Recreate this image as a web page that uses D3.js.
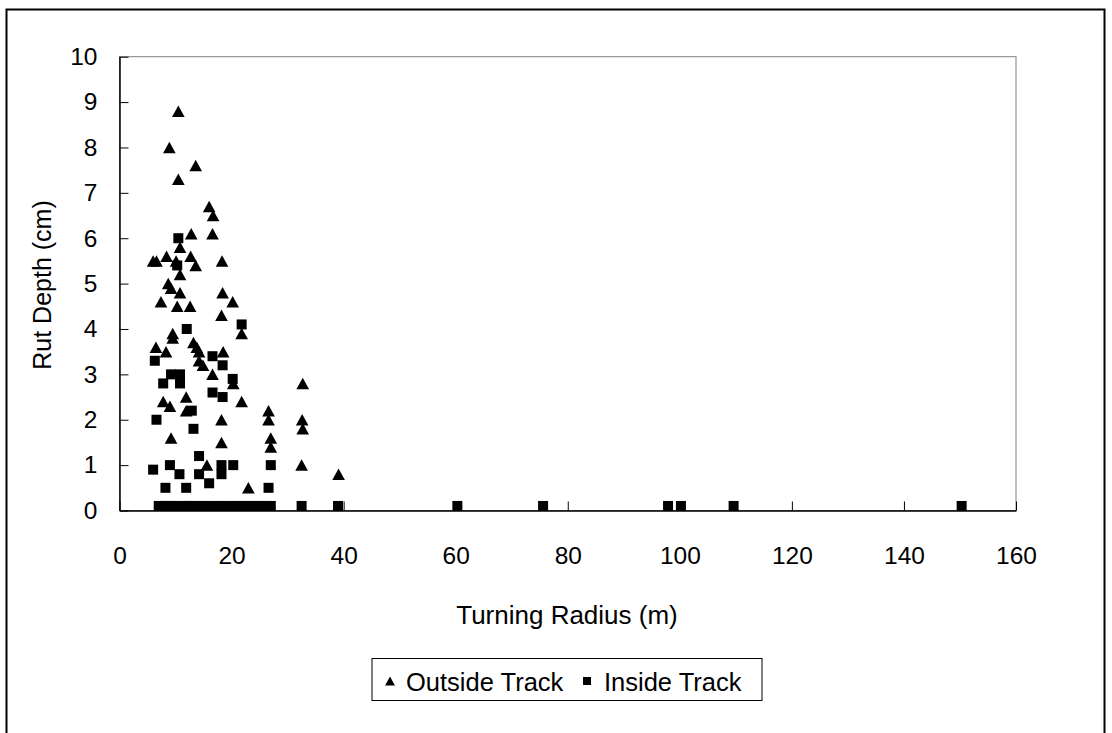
<!DOCTYPE html>
<html><head><meta charset="utf-8">
<script src="https://cdn.jsdelivr.net/npm/d3@7"></script>
<style>html,body{margin:0;padding:0;background:#fff;}svg{display:block;}</style>
</head><body>
<svg id="c" width="1112" height="733"></svg>
<script>
const xTicks = [0,20,40,60,80,100,120,140,160];
const yTicks = [0,1,2,3,4,5,6,7,8,9,10];
const seriesNames = ["Outside Track","Inside Track"];
const outsideX = [10.5,8.9,13.6,10.5,16.0,16.7,16.6,12.8,10.8,6.0,6.6,8.4,12.7,13.6,18.3,10.1,10.8,8.7,9.2,10.8,18.4,7.4,20.2,10.3,12.6,18.2,21.8,9.5,9.5,6.5,8.3,13.2,13.8,14.2,14.2,14.9,18.5,16.6,20.3,11.9,7.8,9.0,11.9,21.8,18.2,9.2,18.2,15.6,23.0,26.6,26.6,27.0,27.0,32.7,32.6,32.7,32.5,39.1];
const outsideY = [8.8,8.0,7.6,7.3,6.7,6.5,6.1,6.1,5.8,5.5,5.5,5.6,5.6,5.4,5.5,5.5,5.2,5.0,4.9,4.8,4.8,4.6,4.6,4.5,4.5,4.3,3.9,3.9,3.8,3.6,3.5,3.7,3.6,3.5,3.3,3.2,3.5,3.0,2.8,2.5,2.4,2.3,2.2,2.4,2.0,1.6,1.5,1.0,0.5,2.2,2.0,1.6,1.4,2.8,2.0,1.8,1.0,0.8];
const insideX = [10.5,10.3,12.0,21.8,6.3,16.6,18.4,9.2,10.8,7.8,10.8,20.2,16.6,18.4,12.9,6.6,13.2,14.2,6.0,9.0,10.7,14.2,18.2,18.2,20.3,16.0,8.2,11.9,27.0,26.6,
  7.0,7.6,8.2,8.8,9.4,10.0,11.5,12.0,12.6,13.2,14.0,15.0,16.0,17.0,18.0,19.0,20.0,21.0,22.0,23.0,24.0,25.0,26.0,27.0,32.5,39.0,60.3,75.6,97.9,100.2,109.6,150.3];
const insideY = [6.0,5.4,4.0,4.1,3.3,3.4,3.2,3.0,3.0,2.8,2.8,2.9,2.6,2.5,2.2,2.0,1.8,1.2,0.9,1.0,0.8,0.8,1.0,0.8,1.0,0.6,0.5,0.5,1.0,0.5,
  0.1,0.1,0.1,0.1,0.1,0.1,0.1,0.1,0.1,0.1,0.1,0.1,0.1,0.1,0.1,0.1,0.1,0.1,0.1,0.1,0.1,0.1,0.1,0.1,0.1,0.1,0.1,0.1,0.1,0.1,0.1,0.1];

const FONT = "'Liberation Sans', Arial, sans-serif";
const svg = d3.select("#c");
const L = 119.5, R = 1016, T = 56.7, B = 510.5;
const x = d3.scaleLinear().domain([0,160]).range([L,R]);
const y = d3.scaleLinear().domain([0,10]).range([B,T]);

// outer border
svg.append("rect").attr("x",6.5).attr("y",9.5).attr("width",1098).attr("height",740)
  .attr("fill","none").attr("stroke","#000").attr("stroke-width",2);

// plot area border
svg.append("rect").attr("x",L).attr("y",T).attr("width",R-L).attr("height",B-T)
  .attr("fill","none").attr("stroke","#808080").attr("stroke-width",1);

// axes
const xAxis = d3.axisBottom(x).tickValues(xTicks).tickSizeInner(-9).tickSizeOuter(0).tickPadding(36);
const gx = svg.append("g").attr("transform",`translate(0,${B})`).call(xAxis);
const yAxis = d3.axisLeft(y).tickValues(yTicks).tickSizeInner(-9).tickSizeOuter(0).tickPadding(22);
const gy = svg.append("g").attr("transform",`translate(${L},0)`).call(yAxis);
[gx,gy].forEach(g=>{
  g.select(".domain").attr("stroke","#000").attr("stroke-width",1.5);
  g.selectAll(".tick line").attr("stroke","#000").attr("stroke-width",1);
  g.selectAll("text").attr("font-family",FONT).attr("font-size",24.5).attr("fill","#000");
});

// axis titles
svg.append("text").attr("x",567).attr("y",624).attr("text-anchor","middle")
  .attr("font-family",FONT).attr("font-size",26).text("Turning Radius (m)");
svg.append("text").attr("transform","translate(51,285) rotate(-90)").attr("text-anchor","middle")
  .attr("font-family",FONT).attr("font-size",25).text("Rut Depth (cm)");

// markers
const tri = s => `M0,${-s*0.5}L${s*0.55},${s*0.5}L${-s*0.55},${s*0.5}Z`;
svg.append("g").selectAll("path").data(d3.range(outsideX.length)).join("path")
  .attr("d",tri(11.5)).attr("fill","#000")
  .attr("transform",i=>`translate(${x(outsideX[i])},${y(outsideY[i])})`);
svg.append("g").selectAll("rect").data(d3.range(insideX.length)).join("rect")
  .attr("x",i=>x(insideX[i])-5).attr("y",i=>y(insideY[i])-5).attr("width",10).attr("height",10).attr("fill","#000");

// legend
const lg = svg.append("g");
lg.append("rect").attr("x",372).attr("y",658.5).attr("width",390).attr("height",42)
  .attr("fill","#fff").attr("stroke","#000").attr("stroke-width",1);
lg.append("path").attr("d",tri(9)).attr("fill","#000").attr("transform","translate(390,681)");
lg.append("text").attr("x",406).attr("y",690.5).attr("font-family",FONT).attr("font-size",25.5).text(seriesNames[0]);
lg.append("rect").attr("x",583).attr("y",677).attr("width",8).attr("height",8).attr("fill","#000");
lg.append("text").attr("x",604).attr("y",690.5).attr("font-family",FONT).attr("font-size",25.5).text(seriesNames[1]);
</script>
</body></html>
